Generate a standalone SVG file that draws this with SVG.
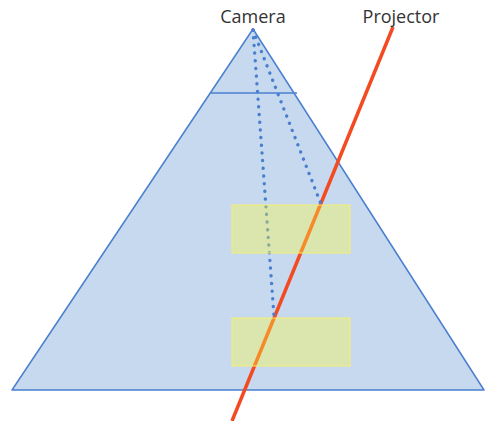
<svg xmlns="http://www.w3.org/2000/svg" width="485" height="421" viewBox="0 0 485 421">
<style>
.lbl{font-family:"Open Sans","Noto Sans","Liberation Sans",sans-serif;font-size:18px;fill:#333;text-anchor:middle}
.dot{fill:none;stroke:#4a7fd0;stroke-width:3.4;stroke-linecap:round;stroke-dasharray:0.1 7.6}
.plane{fill:#ffff33;fill-opacity:0.35;stroke:#f5ee70;stroke-width:1}
</style>
<rect width="485" height="421" fill="#fff"/>
<g id="frustum">
<polygon points="253,29 12,390 484,390" fill="#c6d9ee" stroke="#4a7fd0" stroke-width="1.5" stroke-linejoin="round"/>
<line x1="211" y1="93" x2="297" y2="93" stroke="#4a7fd0" stroke-width="1.5"/>
</g>
<g id="connectors">
<line x1="393" y1="27" x2="232" y2="421" stroke="#f44a22" stroke-width="3.5"/>
<line class="dot" x1="253" y1="30" x2="274" y2="316"/>
<line class="dot" x1="253" y1="30" x2="321" y2="204"/>
</g>
<g id="plane1"><rect class="plane" x="232" y="205" width="118" height="48"/></g>
<g id="plane2"><rect class="plane" x="232" y="318" width="118" height="48"/></g>
<g id="camera"><text class="lbl" x="253" y="23">Camera</text></g>
<g id="projector"><text class="lbl" x="401" y="23">Projector</text></g>
</svg>
